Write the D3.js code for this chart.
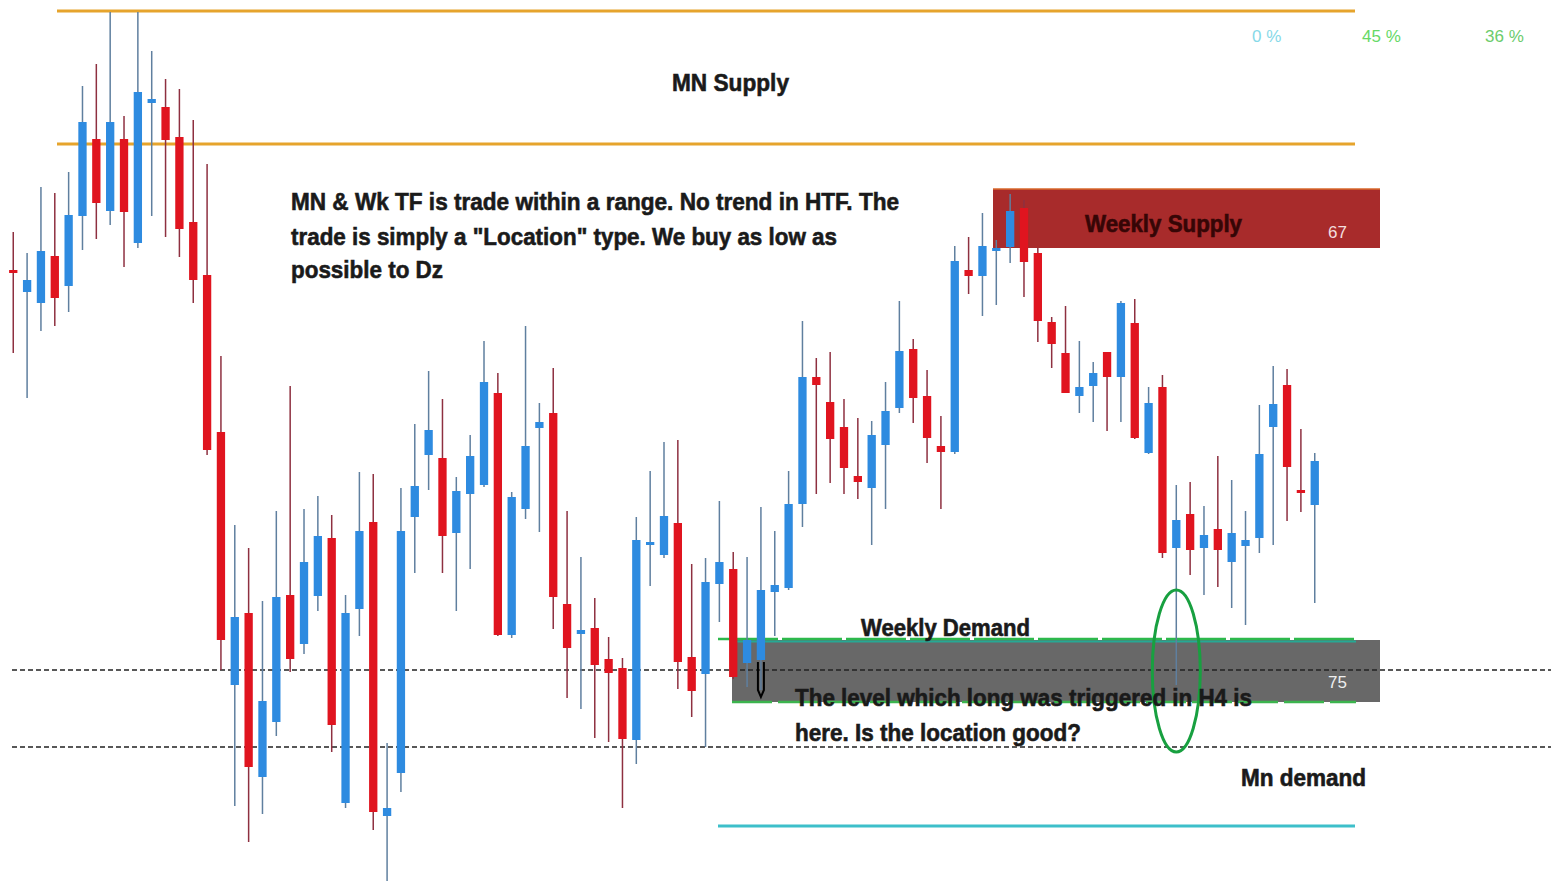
<!DOCTYPE html>
<html>
<head>
<meta charset="utf-8">
<script src="https://cdn.jsdelivr.net/npm/d3@7"></script>
<style>
  body { margin: 0; background: #fff; overflow: hidden; }
  svg { display: block; }
  .note { font-family: "Liberation Sans", Arial, sans-serif; font-weight: bold; fill: #1a1a1a; }
  .small { font-family: "Liberation Sans", Arial, sans-serif; }
</style>
</head>
<body>
<script>
// candle prices (chart points), one per bar, left to right
const opens = [730,708,697,744,714,784,861,789,861,757, 897,893,863,778,725,568,315,387,223,278,
  405,356,404,462,197,391,478,184,227,483, 545,542,467,506,515,607,365,491,572,587,
  396,366,372,341,332,260,456,445,477,343, 326,416,431,337,340,408,412,496,623,598,
  573,524,512,555,592,651,604,554,548,730, 724,749,753,792,747,678,647,604,614,648,
  623,677,547,613,452,486,452,471,438,454, 462,573,615,510,495];
const highs = [768,747,813,807,828,914,936,988,884,988, 949,921,911,880,836,644,475,452,399,489,
  614,491,504,485,405,528,526,257,512,576, 629,601,523,565,659,627,508,674,597,632,
  489,443,402,363,342,483,529,558,560,436, 442,499,448,443,493,469,529,679,642,648,
  601,582,579,618,699,661,630,584,754,763, 787,760,806,800,752,683,694,659,638,648,
  699,701,613,625,515,518,494,544,520,489, 595,634,631,571,547];
const lows = [647,602,669,674,688,750,761,775,733,752, 784,763,743,697,545,330,194,158,186,264,
  328,346,389,248,192,364,170,119,208,427, 510,427,389,431,513,364,362,481,468,371,
  302,291,262,258,192,236,414,442,311,283, 253,378,321,313,310,364,410,473,506,517,
  506,501,455,491,587,577,537,491,546,706, 684,695,737,703,658,632,607,587,578,569,
  578,561,546,442,315,425,405,413,392,375, 447,455,479,488,397];
const closes = [728,720,749,702,785,878,797,878,788,908, 901,860,771,720,550,360,383,233,299,403,
  341,438,464,275,387,469,188,192,469,514, 570,464,509,544,618,365,503,554,578,403,
  352,370,335,327,261,460,458,484,338,309, 418,438,323,360,410,415,496,623,615,561,
  532,518,565,589,649,602,562,548,739,724, 754,752,789,738,679,656,607,613,627,623,
  697,562,597,447,480,450,465,450,467,460, 546,596,533,507,539];

// zone levels (chart points)
const mnSupplyLevels = [989, 856];
const weeklySupplyZone = [811, 752];
const weeklyDemandZone = [360, 298];
const dashedLevels = [330, 253];
const mnDemandLevel = 174;
const zonePercents = ["0 %", "45 %", "36 %"];
const zoneCounts = ["67", "75"];

const width = 1551, height = 883;

const candles = opens.map(function(o, i) {
    return {i: i, o: o, h: highs[i], l: lows[i], c: closes[i]};
});

const svg = d3.select("body").append("svg")
    .attr("width", width)
    .attr("height", height);

const x = d3.scaleBand()
    .domain(d3.range(candles.length))
    .range([9.1, 1318.9])
    .paddingInner(0.4);

const y = d3.scaleLinear()
    .domain([117, 1000])
    .range([height, 0]);

const cx = function(i) { return x(i) + x.bandwidth() / 2; };

// MN supply lines
svg.selectAll(".mnLine")
    .data(mnSupplyLevels)
    .enter()
    .append("line")
    .attr("class", "mnLine")
    .attr("x1", 57).attr("x2", 1355)
    .attr("y1", d => y(d)).attr("y2", d => y(d))
    .attr("stroke", "#e6a42c")
    .attr("stroke-width", 3);

// weekly supply box
svg.append("rect")
    .attr("x", 993).attr("width", 387)
    .attr("y", y(weeklySupplyZone[0]))
    .attr("height", y(weeklySupplyZone[1]) - y(weeklySupplyZone[0]))
    .attr("fill", "#a82b2b");
svg.append("line")
    .attr("x1", 993).attr("x2", 1380)
    .attr("y1", y(weeklySupplyZone[0])).attr("y2", y(weeklySupplyZone[0]))
    .attr("stroke", "#d9682c").attr("stroke-width", 1.5);

// weekly demand box
svg.append("rect")
    .attr("x", 732).attr("width", 648)
    .attr("y", y(weeklyDemandZone[0]))
    .attr("height", y(weeklyDemandZone[1]) - y(weeklyDemandZone[0]))
    .attr("fill", "#686868");
svg.append("line")
    .attr("x1", 718).attr("x2", 1356)
    .attr("y1", y(weeklyDemandZone[0]) - 1).attr("y2", y(weeklyDemandZone[0]) - 1)
    .attr("stroke", "#2db84c").attr("stroke-width", 2.5)
    .attr("stroke-dasharray", "60,4");
svg.append("line")
    .attr("x1", 732).attr("x2", 1356)
    .attr("y1", y(weeklyDemandZone[0]) + 1.5).attr("y2", y(weeklyDemandZone[0]) + 1.5)
    .attr("stroke", "#26a894").attr("stroke-width", 2);
svg.append("line")
    .attr("x1", 732).attr("x2", 1356)
    .attr("y1", y(weeklyDemandZone[1])).attr("y2", y(weeklyDemandZone[1]))
    .attr("stroke", "#3cb44e").attr("stroke-width", 2.5)
    .attr("stroke-dasharray", "40,6");

// dotted levels
svg.selectAll(".dash")
    .data(dashedLevels)
    .enter()
    .append("line")
    .attr("class", "dash")
    .attr("x1", 12).attr("x2", width)
    .attr("y1", d => y(d)).attr("y2", d => y(d))
    .attr("stroke", "#222")
    .attr("stroke-width", 1.5)
    .attr("stroke-dasharray", "5,3");

// MN demand line
svg.append("line")
    .attr("x1", 718).attr("x2", 1355)
    .attr("y1", y(mnDemandLevel)).attr("y2", y(mnDemandLevel))
    .attr("stroke", "#3dbfca").attr("stroke-width", 3);

// candles
const g = svg.append("g").attr("class", "candles");

g.selectAll(".wick")
    .data(candles)
    .enter()
    .append("line")
    .attr("class", "wick")
    .attr("x1", d => cx(d.i)).attr("x2", d => cx(d.i))
    .attr("y1", d => y(d.h)).attr("y2", d => y(d.l))
    .attr("stroke", d => d.c >= d.o ? "#5f7f9f" : "#8e3040")
    .attr("stroke-width", 1.5);

g.selectAll(".body")
    .data(candles)
    .enter()
    .append("rect")
    .attr("class", "body")
    .attr("x", d => x(d.i))
    .attr("width", x.bandwidth())
    .attr("y", d => y(Math.max(d.o, d.c)))
    .attr("height", d => Math.max(3, Math.abs(y(d.o) - y(d.c))))
    .attr("fill", d => d.c >= d.o ? "#2e8be0" : "#e0141f");

// black marker on the entry candle
const mx = cx(54);
svg.append("path")
    .attr("d", "M" + (mx - 3) + "," + y(338) + " V" + y(310) +
        " L" + mx + "," + y(303) + " L" + (mx + 3) + "," + y(310) + " V" + y(338))
    .attr("fill", "none")
    .attr("stroke", "#000")
    .attr("stroke-width", 2);

// green ellipse
svg.append("ellipse")
    .attr("cx", cx(84)).attr("cy", y(329))
    .attr("rx", 24).attr("ry", 81)
    .attr("fill", "none")
    .attr("stroke", "#18a040")
    .attr("stroke-width", 3);

// texts
function note(txt, xp, yp, size, len, fill) {
    svg.append("text")
        .attr("class", "note")
        .attr("x", xp).attr("y", yp)
        .attr("font-size", size)
        .attr("textLength", len)
        .attr("lengthAdjust", "spacingAndGlyphs")
        .style("fill", fill || "#1a1a1a")
        .style("stroke", fill || "#1a1a1a")
        .style("stroke-width", 0.6)
        .text(txt);
}

note("MN Supply", 672, 91, 24, 117);
note("MN & Wk TF is trade within a range. No trend in HTF. The", 291, 210, 24, 608);
note("trade is simply a \"Location\" type. We buy as low as", 291, 245, 24, 546);
note("possible to Dz", 291, 278, 24, 152);
note("Weekly Supply", 1085, 232, 24, 157, "#360606");
note("Weekly Demand", 861, 636, 23, 169);
note("The level which long was triggered in H4 is", 795, 706, 24, 457);
note("here. Is the location good?", 795, 741, 24, 286);
note("Mn demand", 1241, 786, 23, 125);

svg.append("text").attr("class", "small")
    .attr("x", 1328).attr("y", 238).attr("font-size", 17)
    .attr("fill", "#f3dede").text(zoneCounts[0]);
svg.append("text").attr("class", "small")
    .attr("x", 1328).attr("y", 688).attr("font-size", 17)
    .attr("fill", "#eeeeee").text(zoneCounts[1]);

const pctX = [1252, 1362, 1485];
const pctColor = ["#86d9e8", "#66d966", "#6ccc6c"];
svg.selectAll(".pct")
    .data(zonePercents)
    .enter()
    .append("text")
    .attr("class", "small pct")
    .attr("x", (d, i) => pctX[i])
    .attr("y", 42)
    .attr("font-size", 17)
    .attr("fill", (d, i) => pctColor[i])
    .text(d => d);
</script>
</body>
</html>
